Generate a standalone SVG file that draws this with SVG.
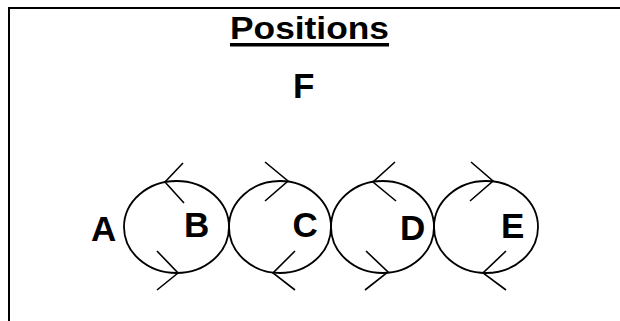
<svg xmlns="http://www.w3.org/2000/svg" width="620" height="321" viewBox="0 0 620 321">
<style>
.frame{fill:none;stroke:#000;stroke-width:2}
.ring{fill:none;stroke:#000;stroke-width:1.8}
.chev{fill:none;stroke:#000;stroke-width:1.6}
.lbl{font-family:"Liberation Sans",Arial,sans-serif;font-weight:bold;font-size:35px;fill:#000}
.title{font-family:"Liberation Sans",Arial,sans-serif;font-weight:bold;font-size:32px;fill:#000}
</style>
<rect width="620" height="321" fill="#fff"/>
<path class="frame" d="M9,321 V8 H620"/>
<g id="title">
<text class="title" x="230" y="39" textLength="159" lengthAdjust="spacingAndGlyphs">Positions</text>
<rect x="230" y="43" width="159" height="3.5" fill="#000"/>
</g>
<g id="F"><text class="lbl" x="293" y="98">F</text></g>
<g id="A"><text class="lbl" x="91" y="241">A</text></g>
<g id="B">
<ellipse class="ring" cx="176.5" cy="227" rx="52.5" ry="46"/>
<text class="lbl" x="184" y="237">B</text>
</g>
<g id="C">
<ellipse class="ring" cx="280" cy="227" rx="51" ry="46"/>
<text class="lbl" x="292.5" y="236.5">C</text>
</g>
<g id="D">
<ellipse class="ring" cx="382.5" cy="227" rx="51.5" ry="46"/>
<text class="lbl" x="400" y="240">D</text>
</g>
<g id="E">
<ellipse class="ring" cx="486" cy="227" rx="52" ry="46"/>
<text class="lbl" x="501" y="238">E</text>
</g>
<g id="connectors">
<polyline class="chev" points="183,163 165,182 184,203"/>
<polyline class="chev" points="157,251 178,273 157,290"/>
<polyline class="chev" points="265,162 288,181 265,201"/>
<polyline class="chev" points="295,251 273,273 295,290"/>
<polyline class="chev" points="395,162 373,182 396,201"/>
<polyline class="chev" points="366,251 388,272 365,290"/>
<polyline class="chev" points="471,162 493,181 470,201"/>
<polyline class="chev" points="506,251 483,273 506,290"/>
</g>
</svg>
